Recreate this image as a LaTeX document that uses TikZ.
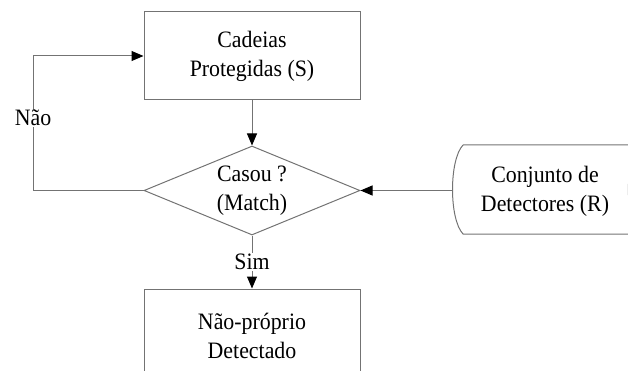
\documentclass[tikz,border=0pt]{standalone}
\usepackage{fontspec}
\setmainfont{Liberation Serif}[FakeStretch=0.93]
\usetikzlibrary{arrows.meta,shapes.geometric}
\begin{document}
\begin{tikzpicture}[x=1pt,y=-1pt,
  ln/.style={draw=black!55,line width=1pt},
  txt/.style={font=\fontsize{23.5}{29}\selectfont,align=center,text=black},
  box/.style={ln,txt,rectangle,minimum width=216pt,minimum height=88pt,inner sep=0pt},
  dec/.style={ln,txt,diamond,aspect=2.43,minimum width=216pt,minimum height=89pt,inner sep=0pt},
  arr/.style={ln,-{Triangle[length=12pt,width=10pt,color=black]}},
  lbl/.style={txt,fill=white,inner sep=1pt}]
\clip (0,0) rectangle (628,371);
\node[box] (prot) at (252,56) {Cadeias\\Protegidas (S)};
\node[dec] (dia) at (252,190.5) {Casou ?\\(Match)};
\node[box,minimum height=94pt] (np) at (252,336) {Não-próprio\\Detectado};
\draw[ln] (463,145) -- (650,145) .. controls (621,160) and (621,219) .. (650,234) -- (463,234) .. controls (449,219) and (449,160) .. (463,145);
\node[txt] (det) at (545,191) {Conjunto de\\Detectores (R)};
\coordinate (detw) at (451.5,190.5);
\coordinate (lp) at (33,190.5);
\draw[arr] (detw) -- (dia.east);
\draw[arr] (prot.south) -- (dia.north);
\draw[arr] (dia.south) -- node[lbl] (sim) {Sim} (np.north);
\draw[arr] (dia.west) -- (lp) |- node[lbl,pos=0.27] (nao) {Não} (prot.west);
\end{tikzpicture}
\end{document}
